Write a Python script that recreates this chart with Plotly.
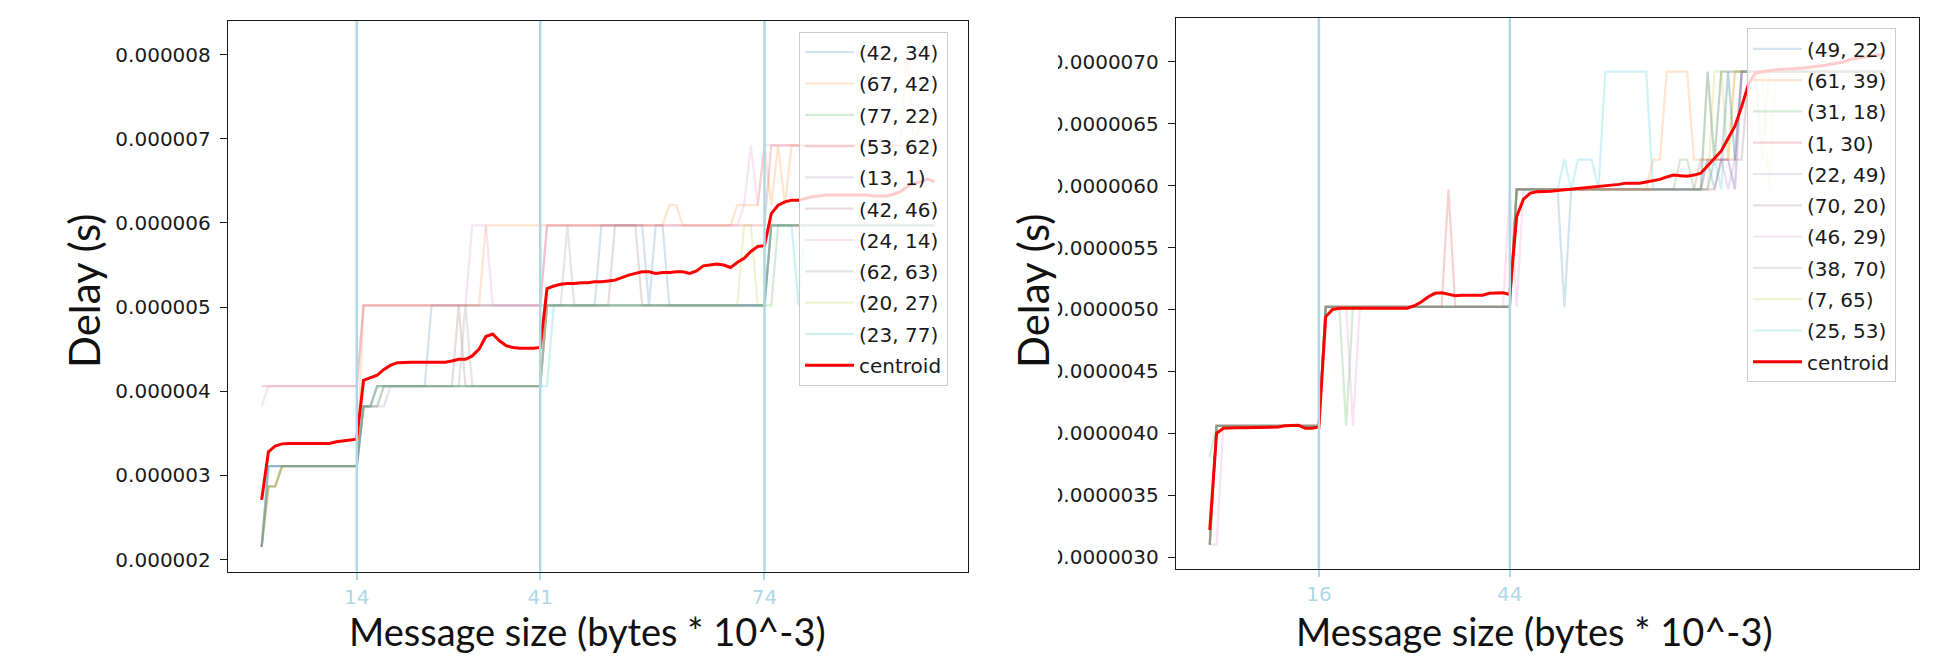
import plotly.graph_objects as go

# ------------------------------------------------------------------
# Message-size sweep: delay per node pair (microseconds), x = size index
# Each pair is stored as run-length steps: (delay_us, number_of_points)
# ------------------------------------------------------------------
sizes = list(range(100))

# ---------------- cluster A ----------------
a_42_34 = [(2.15, 1), (3.11, 14), (3.82, 2), (4.06, 8), (5.02, 25), (5.97, 7), (5.02, 1),
           (5.97, 2), (5.02, 15), (5.97, 25)]
a_67_42 = [(2.15, 1), (2.87, 2), (3.11, 12), (5.02, 18), (5.97, 27), (6.21, 2), (5.97, 8),
           (6.21, 4), (6.92, 1), (6.21, 1), (6.92, 1), (6.21, 1), (6.92, 17), (8.05, 1), (6.92, 4)]
a_77_22 = [(2.15, 1), (2.87, 2), (3.11, 12), (3.82, 3), (4.06, 24), (5.02, 34), (5.97, 24)]
a_53_62 = [(4.06, 15), (5.02, 27), (5.97, 33), (6.92, 22), (7.17, 3)]
a_13_1 = [(2.15, 1), (3.11, 14), (3.82, 4), (4.06, 23), (5.02, 33), (5.97, 25)]
a_42_46 = [(2.15, 1), (2.87, 2), (3.11, 12), (3.82, 2), (4.06, 12), (5.02, 1), (4.06, 12),
           (5.02, 10), (5.97, 4), (5.02, 19), (5.97, 25)]
a_24_14 = [(3.82, 1), (4.06, 14), (5.02, 16), (5.97, 3), (5.02, 8), (5.97, 29), (6.21, 1),
           (6.92, 1), (6.21, 1), (6.92, 26)]
a_62_63 = [(2.15, 1), (3.11, 14), (3.82, 3), (4.06, 12), (5.02, 1), (4.06, 11), (5.02, 3),
           (5.97, 1), (5.02, 29), (5.97, 25)]
a_20_27 = [(2.15, 1), (2.87, 2), (3.11, 12), (3.82, 2), (4.06, 25), (5.02, 29), (5.97, 2),
           (5.02, 2), (5.97, 25)]
a_23_77 = [(2.15, 1), (3.11, 14), (3.82, 2), (4.06, 26), (5.02, 32), (5.97, 4), (5.02, 1),
           (5.97, 20)]

a_labels = ["(42, 34)", "(67, 42)", "(77, 22)", "(53, 62)", "(13, 1)",
            "(42, 46)", "(24, 14)", "(62, 63)", "(20, 27)", "(23, 77)"]
a_series = [a_42_34, a_67_42, a_77_22, a_53_62, a_13_1,
            a_42_46, a_24_14, a_62_63, a_20_27, a_23_77]

a_centroid = [
    2.71, 3.28, 3.35, 3.375, 3.38, 3.38, 3.38, 3.38, 3.38, 3.38, 3.38, 3.40, 3.41, 3.42, 3.43,
    4.13, 4.16, 4.19, 4.26, 4.31, 4.34, 4.345, 4.345, 4.345, 4.345, 4.345, 4.345, 4.345,
    4.36, 4.38, 4.38, 4.42, 4.50, 4.65, 4.68, 4.60, 4.54, 4.52, 4.51, 4.51, 4.51, 4.52,
    5.22, 5.25, 5.27, 5.28, 5.28, 5.29, 5.29, 5.30, 5.30, 5.31, 5.32, 5.35, 5.38, 5.40,
    5.42, 5.42, 5.40, 5.41, 5.41, 5.42, 5.42, 5.40, 5.43, 5.49, 5.50, 5.51, 5.50, 5.47,
    5.53, 5.58, 5.66, 5.72, 5.73,
    6.11, 6.21, 6.25, 6.27, 6.27, 6.29, 6.31, 6.32, 6.33, 6.33, 6.33, 6.33, 6.33, 6.33,
    6.33, 6.32, 6.32, 6.32, 6.34, 6.37, 6.43, 6.47, 6.49, 6.52, 6.49,
]
a_breaks = [14, 41, 74]

# ---------------- cluster B ----------------
b_49_22 = [(3.10, 1), (4.06, 16), (5.02, 28), (5.97, 7), (5.02, 1), (5.97, 20), (6.21, 1),
           (5.97, 1), (6.21, 2), (5.97, 1), (6.92, 22)]
b_61_39 = [(3.10, 1), (4.06, 16), (5.02, 28), (5.97, 20), (6.21, 2), (6.92, 4), (6.21, 6),
           (6.92, 23)]
b_31_18 = [(3.81, 1), (4.06, 16), (5.02, 3), (4.06, 1), (5.02, 24), (5.97, 24), (6.21, 2),
           (5.97, 2), (6.92, 1), (6.21, 1), (6.92, 25)]
b_1_30 = [(3.10, 1), (4.06, 16), (5.02, 18), (5.97, 1), (5.02, 9), (5.97, 30), (6.21, 3),
          (6.92, 22)]
b_22_49 = [(3.10, 1), (4.06, 16), (5.02, 28), (5.97, 28), (6.21, 3), (5.97, 1), (6.21, 1),
           (6.92, 22)]
b_70_20 = [(3.10, 1), (4.06, 16), (5.02, 28), (5.97, 27), (6.21, 4), (6.92, 1), (6.21, 2),
           (6.92, 21)]
b_46_29 = [(3.10, 2), (4.06, 15), (5.02, 4), (4.06, 1), (5.02, 22), (5.97, 1), (5.02, 1),
           (5.97, 28), (6.21, 3), (5.97, 1), (6.92, 22)]
b_38_70 = [(3.10, 1), (4.06, 16), (5.02, 28), (5.97, 28), (6.92, 1), (6.21, 1), (6.92, 6),
           (6.21, 1), (6.92, 18)]
b_7_65 = [(3.10, 1), (4.06, 16), (5.02, 28), (5.97, 29), (6.92, 2), (6.21, 1), (6.92, 5),
          (5.97, 1), (6.92, 17)]
b_25_53 = [(3.10, 1), (4.06, 16), (5.02, 28), (5.97, 7), (6.21, 1), (5.97, 1), (6.21, 3),
           (5.97, 1), (6.92, 7), (5.97, 9), (6.21, 1), (5.97, 1), (6.92, 1), (6.21, 1), (6.92, 22)]

b_labels = ["(49, 22)", "(61, 39)", "(31, 18)", "(1, 30)", "(22, 49)",
            "(70, 20)", "(46, 29)", "(38, 70)", "(7, 65)", "(25, 53)"]
b_series = [b_49_22, b_61_39, b_31_18, b_1_30, b_22_49,
            b_70_20, b_46_29, b_38_70, b_7_65, b_25_53]

b_centroid = [
    3.22, 4.00, 4.04, 4.045, 4.045, 4.045, 4.045, 4.045, 4.045, 4.045, 4.05, 4.06, 4.065,
    4.065, 4.04, 4.04, 4.05,
    4.94, 5.00, 5.01, 5.01, 5.01, 5.01, 5.01, 5.01, 5.01, 5.01, 5.01, 5.01, 5.01,
    5.03, 5.06, 5.10, 5.13, 5.135, 5.125, 5.11, 5.115, 5.115, 5.115, 5.115,
    5.13, 5.135, 5.135, 5.12,
    5.75, 5.89, 5.94, 5.95, 5.95, 5.955, 5.96, 5.965, 5.97, 5.98, 5.985, 5.99, 5.995,
    5.995, 6.00, 6.01, 6.02, 6.02, 6.02, 6.03, 6.04, 6.05, 6.07, 6.085, 6.08, 6.075,
    6.085, 6.10, 6.16, 6.22, 6.28, 6.38, 6.48, 6.64, 6.82, 6.91, 6.92, 6.93, 6.935,
    6.94, 6.94, 6.945, 6.95, 6.955, 6.96, 6.97, 6.98, 6.99, 7.00, 7.02, 7.03, 7.04,
    7.05, 7.055, 7.055,
]
b_breaks = [16, 44]

# ------------------------------------------------------------------
tab10 = ["#1f77b4", "#ff7f0e", "#2ca02c", "#d62728", "#9467bd",
         "#8c564b", "#e377c2", "#7f7f7f", "#bcbd22", "#17becf"]
BREAK_COLOR = "#add8e6"
INK = "#1a1a1a"
TICK_FONT = dict(family="DejaVu Sans", size=20, color=INK)
XTITLE_FONT = dict(family="Lato", size=38, color="#111111")
YTITLE_FONT = dict(family="Lato", size=42, color="#111111")

W, H = 1941, 667


def steps(runs):
    """Expand (value, count) runs into a per-point list."""
    out = []
    for value, count in runs:
        out.extend([value] * count)
    assert len(out) == len(sizes)
    return out


def us(values):
    return [v * 1e-6 for v in values]


fig = go.Figure()

panels = [
    dict(series=a_series, labels=a_labels, centroid=a_centroid, xa="x", ya="y", legend="legend", tag="a"),
    dict(series=b_series, labels=b_labels, centroid=b_centroid, xa="x2", ya="y2", legend="legend2", tag="b"),
]

for p in panels:
    for i, (runs, label) in enumerate(zip(p["series"], p["labels"])):
        fig.add_trace(go.Scatter(
            x=sizes, y=us(steps(runs)), mode="lines", name=label,
            line=dict(color=tab10[i], width=2.2), opacity=0.2,
            xaxis=p["xa"], yaxis=p["ya"], legend=p["legend"],
            legendgroup=f"{p['tag']}{i}", showlegend=True,
        ))
    assert len(p["centroid"]) == len(sizes)
    fig.add_trace(go.Scatter(
        x=sizes, y=us(p["centroid"]), mode="lines", name="centroid",
        line=dict(color="#ff0000", width=3),
        xaxis=p["xa"], yaxis=p["ya"], legend=p["legend"],
        legendgroup=f"{p['tag']}c",
    ))

# breakpoint markers
for xref, yref, brks in (("x", "y domain", a_breaks), ("x2", "y2 domain", b_breaks)):
    for b in brks:
        fig.add_shape(type="line", xref=xref, yref=yref, x0=b, x1=b, y0=0, y1=1,
                      line=dict(color=BREAK_COLOR, width=2.5), layer="above")


# pixel -> paper helpers
def px(x):
    return x / W


def py(y):
    return 1 - y / H


frame = dict(showline=True, mirror=True, linecolor=INK, linewidth=1.4,
             showgrid=False, zeroline=False)

xcommon = dict(range=[-4.95, 103.95], ticks="outside", ticklen=7, tickwidth=1.5,
               tickcolor=BREAK_COLOR,
               tickfont=dict(family="DejaVu Sans", size=20, color=BREAK_COLOR), **frame)
ycommon = dict(ticks="outside", ticklen=7, tickwidth=1.3, tickcolor=INK,
               tickfont=TICK_FONT, tick0=0, ticklabelstandoff=5, **frame)

legend_common = dict(xanchor="right", yanchor="top",
                     bgcolor="rgba(255,255,255,0.8)", bordercolor="#cccccc", borderwidth=1,
                     font=dict(family="DejaVu Sans", size=20, color=INK),
                     tracegroupgap=2.3, traceorder="grouped", itemwidth=49)

fig.update_layout(
    width=W, height=H, autosize=False,
    margin=dict(l=0, r=0, t=0, b=0),
    paper_bgcolor="white", plot_bgcolor="white",
    showlegend=True,
    xaxis=dict(domain=[px(228), px(968)], anchor="y", tickvals=a_breaks,
               ticktext=[str(b) for b in a_breaks], **xcommon),
    yaxis=dict(domain=[py(571.5), py(21)], anchor="x", range=[1.859e-6, 8.398e-6],
               dtick=1e-6, tickformat=".6f", **ycommon),
    xaxis2=dict(domain=[px(1176), px(1918.7)], anchor="y2", tickvals=b_breaks,
                ticktext=[str(b) for b in b_breaks], **xcommon),
    yaxis2=dict(domain=[py(568.8), py(18.1)], anchor="x2", range=[2.905e-6, 7.353e-6],
                dtick=0.5e-6, tickformat=".7f", **ycommon),
    legend=dict(x=px(948), y=py(31.7), **legend_common),
    legend2=dict(x=px(1896), y=py(28.3), **legend_common),
)

# the right-hand panel's tick labels run off the left edge of its frame
fig.add_shape(type="rect", xref="paper", yref="paper", x0=px(978), x1=px(1058), y0=0, y1=1,
              fillcolor="white", line=dict(width=0), layer="above")

titles = [
    ("Delay (s)", 84, 291, -90, YTITLE_FONT),
    ("Message size (bytes * 10^-3)", 587.3, 631, 0, XTITLE_FONT),
    ("Delay (s)", 1033, 291, -90, YTITLE_FONT),
    ("Message size (bytes * 10^-3)", 1534.5, 631, 0, XTITLE_FONT),
]
for text, tx, ty, ang, fnt in titles:
    fig.add_annotation(text=text, xref="paper", yref="paper", x=px(tx), y=py(ty),
                       xanchor="center", yanchor="middle", showarrow=False,
                       textangle=ang, font=fnt)

fig.write_html("out.html")
